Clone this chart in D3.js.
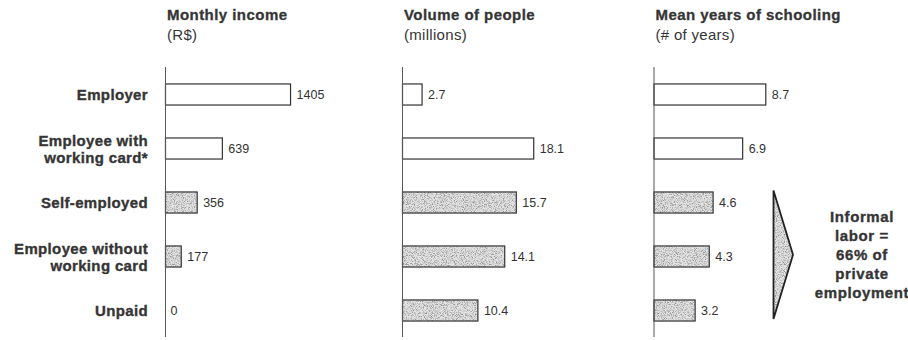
<!DOCTYPE html>
<html>
<head>
<meta charset="utf-8">
<script src="https://cdn.jsdelivr.net/npm/d3@7/dist/d3.min.js"></script>
<style>
  html, body { margin: 0; padding: 0; background: #fff; }
  svg { display: block; font-family: "Liberation Sans", Arial, Helvetica, sans-serif; }
</style>
</head>
<body>
<svg id="chart" width="908" height="340"></svg>
<script>
// Occupation categories (rows), top to bottom; multi-line labels split by "\n"
const categories = [
  "Employer",
  "Employee with\nworking card*",
  "Self-employed",
  "Employee without\nworking card",
  "Unpaid"
];
// Which rows belong to informal labor (drawn with the grey stipple)
const informal = [false, false, true, true, true];

// Series values
const monthlyIncome = [1405, 639, 356, 177, 0];
const volumeOfPeople = [2.7, 18.1, 15.7, 14.1, 10.4];
const yearsOfSchooling = [8.7, 6.9, 4.6, 4.3, 3.2];

// Value label formats
const incomeLabels = ["1405", "639", "356", "177", "0"];
const volumeLabels = ["2.7", "18.1", "15.7", "14.1", "10.4"];
const schoolingLabels = ["8.7", "6.9", "4.6", "4.3", "3.2"];

// Panel headings
const titles = ["Monthly income", "Volume of people", "Mean years of schooling"];
const subtitles = ["(R$)", "(millions)", "(# of years)"];

// Call-out text
const calloutLines = ["Informal", "labor =", "66% of", "private", "employment"];

const svg = d3.select("#chart");
const ink = "#353535";

// Grey speckled fill, clipped to the shape it is applied to
const defs = svg.append("defs");
const f = defs.append("filter").attr("id", "grain")
  .attr("x", 0).attr("y", 0).attr("width", 1).attr("height", 1)
  .attr("filterUnits", "objectBoundingBox");
f.append("feTurbulence").attr("type", "fractalNoise")
  .attr("baseFrequency", 1.1).attr("numOctaves", 2).attr("seed", 7).attr("result", "noise");
f.append("feColorMatrix").attr("in", "noise").attr("type", "matrix")
  .attr("values", "0 0 0 0 0.30  0 0 0 0 0.30  0 0 0 0 0.30  3.2 0 0 0 -1.35")
  .attr("result", "speck");
f.append("feFlood").attr("flood-color", "#e4e4e4").attr("result", "base");
f.append("feMerge").attr("result", "tex").call(m => {
  m.append("feMergeNode").attr("in", "base");
  m.append("feMergeNode").attr("in", "speck");
});
f.append("feComposite").attr("in", "tex").attr("in2", "SourceGraphic").attr("operator", "in");

// Shared row layout
const y = d3.scaleBand()
  .domain(categories)
  .range([67.5, 337.5])
  .paddingInner(0.61)
  .paddingOuter(0.305);

const axisTop = 67, axisBottom = 337;

// Row labels
const labelX = 148;
const lab = svg.append("g")
  .attr("font-weight", "bold")
  .attr("font-size", 15)
  .attr("letter-spacing", 0.35)
  .attr("fill", ink)
  .attr("stroke", ink)
  .attr("stroke-width", 0.35)
  .attr("text-anchor", "end");
categories.forEach(c => {
  const lines = c.split("\n");
  const cy = y(c) + y.bandwidth() / 2;
  const lh = 17;
  lines.forEach((ln, i) => {
    lab.append("text")
      .attr("x", labelX)
      .attr("y", cy + (i - (lines.length - 1) / 2) * lh + 5.5)
      .text(ln);
  });
});

// Panel definitions: axis position, scale domain/extent, values, labels
const panels = [
  { x0: 165.5, max: 1500, width: 133.5, values: monthlyIncome, labels: incomeLabels },
  { x0: 402.5, max: 20, width: 145, values: volumeOfPeople, labels: volumeLabels },
  { x0: 654, max: 10, width: 128.5, values: yearsOfSchooling, labels: schoolingLabels }
];

panels.forEach((p, pi) => {
  const x = d3.scaleLinear().domain([0, p.max]).range([p.x0, p.x0 + p.width]);
  const g = svg.append("g");

  // Headings
  g.append("text")
    .attr("x", p.x0 + 1.5).attr("y", 20)
    .attr("font-weight", "bold").attr("font-size", 15)
    .attr("letter-spacing", 0.45)
    .attr("fill", ink)
    .attr("stroke", ink).attr("stroke-width", 0.3)
    .text(titles[pi]);
  g.append("text")
    .attr("x", p.x0 + 1.5).attr("y", 40)
    .attr("font-size", 15)
    .attr("letter-spacing", 0.3)
    .attr("fill", ink)
    .text(subtitles[pi]);

  // Bars
  categories.forEach((c, i) => {
    const w = x(p.values[i]) - x(0);
    if (w > 0) {
      g.append("rect")
        .attr("x", x(0)).attr("y", y(c))
        .attr("width", w).attr("height", y.bandwidth())
        .attr("fill", informal[i] ? "#d8d8d8" : "#fff")
        .attr("filter", informal[i] ? "url(#grain)" : null);
      g.append("rect")
        .attr("x", x(0)).attr("y", y(c))
        .attr("width", w).attr("height", y.bandwidth())
        .attr("fill", "none")
        .attr("stroke", "#333")
        .attr("stroke-width", 1.2);
    }
    g.append("text")
      .attr("x", x(p.values[i]) + (w > 0 ? 6 : 5))
      .attr("y", y(c) + y.bandwidth() / 2 + 4.5)
      .attr("font-size", 12.5)
      .attr("fill", "#333")
      .text(p.labels[i]);
  });

  // Vertical baseline
  g.append("line")
    .attr("x1", x(0)).attr("x2", x(0))
    .attr("y1", axisTop).attr("y2", axisBottom)
    .attr("stroke", "#555").attr("stroke-width", 1);
});

// Chevron pointing at the informal rows
const arrowX = 773.5, arrowTipX = 793;
const aTop = y("Self-employed") - 1.5;
const aBot = y("Unpaid") + y.bandwidth() - 2;
const aMid = (aTop + aBot) / 2;
const arrowPts = [[arrowX, aTop], [arrowTipX, aMid], [arrowX, aBot]];
svg.append("path")
  .attr("d", d3.line()(arrowPts) + "Z")
  .attr("fill", "#d8d8d8")
  .attr("filter", "url(#grain)");
svg.append("path")
  .attr("d", d3.line()(arrowPts) + "Z")
  .attr("fill", "none")
  .attr("stroke", "#222")
  .attr("stroke-width", 1.8)
  .attr("stroke-linejoin", "miter");

// Call-out text
const co = svg.append("g")
  .attr("font-weight", "bold")
  .attr("font-size", 15)
  .attr("letter-spacing", 0.6)
  .attr("fill", ink)
  .attr("stroke", ink)
  .attr("stroke-width", 0.35)
  .attr("text-anchor", "middle");
calloutLines.forEach((t, i) => {
  co.append("text")
    .attr("x", 862)
    .attr("y", aMid + (i - 2) * 19 + 5.5)
    .text(t);
});
</script>
</body>
</html>
